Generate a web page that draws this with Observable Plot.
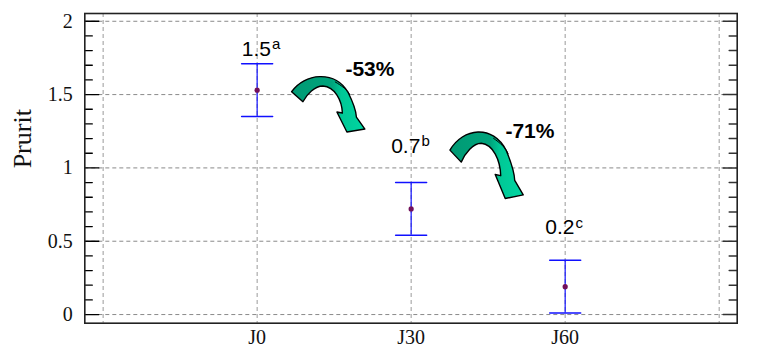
<!DOCTYPE html>
<html>
<head>
<meta charset="utf-8">
<script src="https://cdn.jsdelivr.net/npm/d3@7"></script>
<script src="https://cdn.jsdelivr.net/npm/@observablehq/plot@0.6"></script>
<style>
  html, body { margin: 0; padding: 0; background: white; }
</style>
</head>
<body>
<div id="chart"></div>
<script>
// ---- data ----
const categories = ["J0", "J30", "J60"];
const means = [1.53, 0.72, 0.19];
const upper = [1.71, 0.90, 0.37];
const lower = [1.35, 0.54, 0.01];
const valueLabels = ["1.5", "0.7", "0.2"];
const superscripts = ["a", "b", "c"];
const changeLabels = ["-53%", "-71%"];
const yTicks = [0, 0.5, 1, 1.5, 2];
const yMinorTicks = [0.1, 0.2, 0.3, 0.4, 0.6, 0.7, 0.8, 0.9, 1.1, 1.2, 1.3, 1.4, 1.6, 1.7, 1.8, 1.9];
const xGrid = [-1, 0, 1, 2, 3];

// annotation anchors (data units)
const labelX = [0.09, 1.06, 2.06];
const labelY = [1.766, 1.103, 0.546];
const changeX = [0.573, 1.612];
const changeY = [1.63, 1.205];
const arrowX = [0.227, 1.255];
const arrowY = [1.516, 1.118];
const arrowSY = [1, 1.2];

const idx = categories.map((_, i) => i);
const cidx = changeLabels.map((_, i) => i);

const serif = "'Liberation Serif', 'Times New Roman', serif";
const sans = "'Liberation Sans', Arial, sans-serif";

const lineShape = {draw(context, l) { context.moveTo(0, 0); context.lineTo(0, -l); }};

const arrowPath = "M0,0 C13,-18.7 43,-21.7 56.3,0.3 C60.3,8.3 64.3,16.3 64.8,25.3 L73.3,37.3 L55.3,40.3 L45.3,20.3 L50.8,21.3 C50.3,8.3 43.3,-4.7 31.3,-5.7 C23.3,-5.7 15.3,2.3 11.3,10 Z";
const twistPath = "M43.3,-10 C50,-6 56,-2 58.3,3.3";

function arrows(index, scales) {
  const g = d3.create("svg:g");
  const defs = g.append("defs");
  const grad = defs.append("linearGradient").attr("id", "arrowGrad")
    .attr("x1", "0").attr("x2", "1").attr("y1", "0").attr("y2", "0");
  grad.append("stop").attr("offset", "0").attr("stop-color", "#009a74");
  grad.append("stop").attr("offset", "0.55").attr("stop-color", "#00a47c");
  grad.append("stop").attr("offset", "0.68").attr("stop-color", "#00c896");
  grad.append("stop").attr("offset", "1").attr("stop-color", "#00d6a2");
  arrowX.forEach((ax, i) => {
    const px = scales.x(ax), py = scales.y(arrowY[i]);
    const gg = g.append("g").attr("transform", `translate(${px},${py}) scale(1,${arrowSY[i]})`);
    gg.append("path").attr("d", arrowPath).attr("fill", "url(#arrowGrad)")
      .attr("stroke", "black").attr("stroke-width", 1.4).attr("stroke-linejoin", "round")
      .attr("vector-effect", "non-scaling-stroke");
    gg.append("path").attr("d", twistPath).attr("fill", "none")
      .attr("stroke", "black").attr("stroke-width", 1).attr("vector-effect", "non-scaling-stroke");
  });
  return g.node();
}

const chart = Plot.plot({
  width: 767,
  height: 347,
  marginLeft: 84.3,
  marginRight: 30.3,
  marginTop: 13,
  marginBottom: 24.3,
  x: {domain: [-1.119, 3.117]},
  y: {domain: [-0.059, 2.053]},
  style: {background: "white", overflow: "visible"},
  marks: [
    Plot.gridY(yTicks, {stroke: "#8a8a8a", strokeOpacity: 1, strokeDasharray: "4,3"}),
    Plot.gridX(xGrid, {stroke: "#9a9a9a", strokeOpacity: 1, strokeDasharray: "4,3"}),
    Plot.axisY(yTicks, {tickSize: 0, tickPadding: 12, fontSize: 20, fontFamily: serif, fill: "#111", label: null, tickFormat: d => String(d)}),
    Plot.axisX([0, 1, 2], {tickSize: 0, tickPadding: 7, fontSize: 20, fontFamily: serif, fill: "#111", label: null, tickFormat: i => categories[i]}),
    // inward ticks, left and right
    Plot.vector(yTicks, {y: d => d, frameAnchor: "left", rotate: 90, length: 14, anchor: "start", shape: lineShape, stroke: "black", strokeWidth: 1.3}),
    Plot.vector(yMinorTicks, {y: d => d, frameAnchor: "left", rotate: 90, length: 7.5, anchor: "start", shape: lineShape, stroke: "black", strokeWidth: 1.3}),
    Plot.vector(yTicks, {y: d => d, frameAnchor: "right", rotate: -90, length: 14, anchor: "start", shape: lineShape, stroke: "#333", strokeWidth: 1.5}),
    Plot.vector(yMinorTicks, {y: d => d, frameAnchor: "right", rotate: -90, length: 8, anchor: "start", shape: lineShape, stroke: "#333", strokeWidth: 1.5}),
    // error bars
    Plot.ruleX(idx, {x: i => i, y1: i => lower[i], y2: i => upper[i], stroke: "#1010ff", strokeWidth: 1.2}),
    Plot.vector(idx, {x: i => i, y: i => upper[i], rotate: 90, length: 31, anchor: "middle", shape: lineShape, stroke: "#1010ff", strokeWidth: 1.5}),
    Plot.vector(idx, {x: i => i, y: i => lower[i], rotate: 90, length: 31, anchor: "middle", shape: lineShape, stroke: "#1010ff", strokeWidth: 1.5}),
    Plot.dot(idx, {x: i => i, y: i => means[i], r: 2.6, fill: "#72105a", stroke: "none"}),
    // value labels
    Plot.text(idx, {x: i => labelX[i], y: i => labelY[i], text: i => valueLabels[i], textAnchor: "end", lineAnchor: "bottom", fontSize: 21, fontFamily: sans, fill: "black"}),
    Plot.text(idx, {x: i => labelX[i], y: i => labelY[i], text: i => superscripts[i], textAnchor: "start", lineAnchor: "bottom", dx: 1, dy: -6.5, fontSize: 15, fontFamily: sans, fill: "black"}),
    Plot.text(cidx, {x: i => changeX[i], y: i => changeY[i], text: i => changeLabels[i], textAnchor: "start", lineAnchor: "bottom", fontSize: 21, fontWeight: "bold", fontFamily: sans, fill: "black", letterSpacing: "0.5px"}),
    Plot.text(["Prurit"], {frameAnchor: "left", dx: -62, rotate: -90, fontSize: 26, fontFamily: serif, fill: "#111"}),
    arrows,
    Plot.frame({stroke: "#222", strokeWidth: 1.6})
  ]
});

document.getElementById("chart").appendChild(chart);
</script>
</body>
</html>
